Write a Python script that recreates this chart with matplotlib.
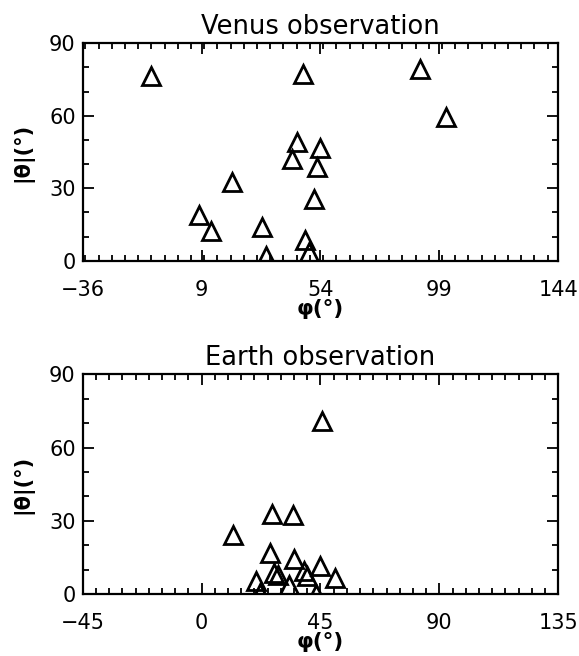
import matplotlib
matplotlib.use('Agg')
import matplotlib.pyplot as plt
from matplotlib.ticker import MultipleLocator

# ─── Data ────────────────────────────────────────────────────────────────────
venus_phi   = [-10.2, 47.2, 91.7, 101.6, 45.0, 53.9, 43.3, 52.7,
               20.4, 51.6, 8.1, 12.6, 31.7, 33.5, 48.3, 49.5]
venus_theta = [76.5, 77.1, 79.2, 59.6, 49.0, 46.5, 42.3, 38.7,
               32.5, 25.7, 19.1, 12.2, 14.0, 2.0, 8.6, 3.7]

earth_phi   = [45.4, 11.8, 26.6, 34.5, 26.0, 34.8, 45.0, 38.8,
               39.8, 27.5, 29.0, 50.6, 20.6, 32.9, 22.0, 43.2]
earth_theta = [70.9, 24.0, 32.8, 32.5, 16.9, 14.4, 11.6, 9.3,
               7.4, 8.7, 7.8, 6.4, 5.2, 3.5, 0.4, 0.0]

venus_xticks = [-36, 9, 54, 99, 144]
earth_xticks = [-45, 0, 45, 90, 135]
yticks = [0, 30, 60, 90]

plt.rcParams['font.family'] = 'DejaVu Sans'

fig = plt.figure(figsize=(5.79, 6.56), dpi=100)
fig.patch.set_facecolor('white')


def panel(rect, phi, theta, xticks, title):
    ax = fig.add_axes(rect)
    ax.plot(phi, theta, linestyle='none', marker='^', ms=13.5,
            mfc='none', mec='black', mew=2.0, clip_on=True)
    ax.set_xlim(xticks[0], xticks[-1])
    ax.set_ylim(0, 90)
    ax.set_xticks(xticks)
    ax.set_yticks(yticks)
    ax.xaxis.set_minor_locator(MultipleLocator(5))
    ax.yaxis.set_minor_locator(MultipleLocator(10))
    ax.tick_params(which='both', direction='in', top=True, right=True,
                   width=1.3, labelsize=15)
    ax.tick_params(which='major', length=8)
    ax.tick_params(which='minor', length=4)
    ax.tick_params(axis='x', pad=14)
    ax.tick_params(axis='y', pad=5)
    for sp in ax.spines.values():
        sp.set_linewidth(1.6)
    ax.set_title(title, fontsize=18.5, pad=7)
    ax.set_xlabel('φ(°)', fontsize=15.5, fontweight='bold', labelpad=-1)
    ax.set_ylabel('|θ|(°)', fontsize=15, fontweight='bold', labelpad=11)
    return ax


panel([0.1428, 0.6026, 0.8214, 0.3314], venus_phi, venus_theta,
      venus_xticks, 'Venus observation')
panel([0.1428, 0.0945, 0.8214, 0.3349], earth_phi, earth_theta,
      earth_xticks, 'Earth observation')

fig.savefig('out.png', dpi=100, facecolor=fig.get_facecolor())
